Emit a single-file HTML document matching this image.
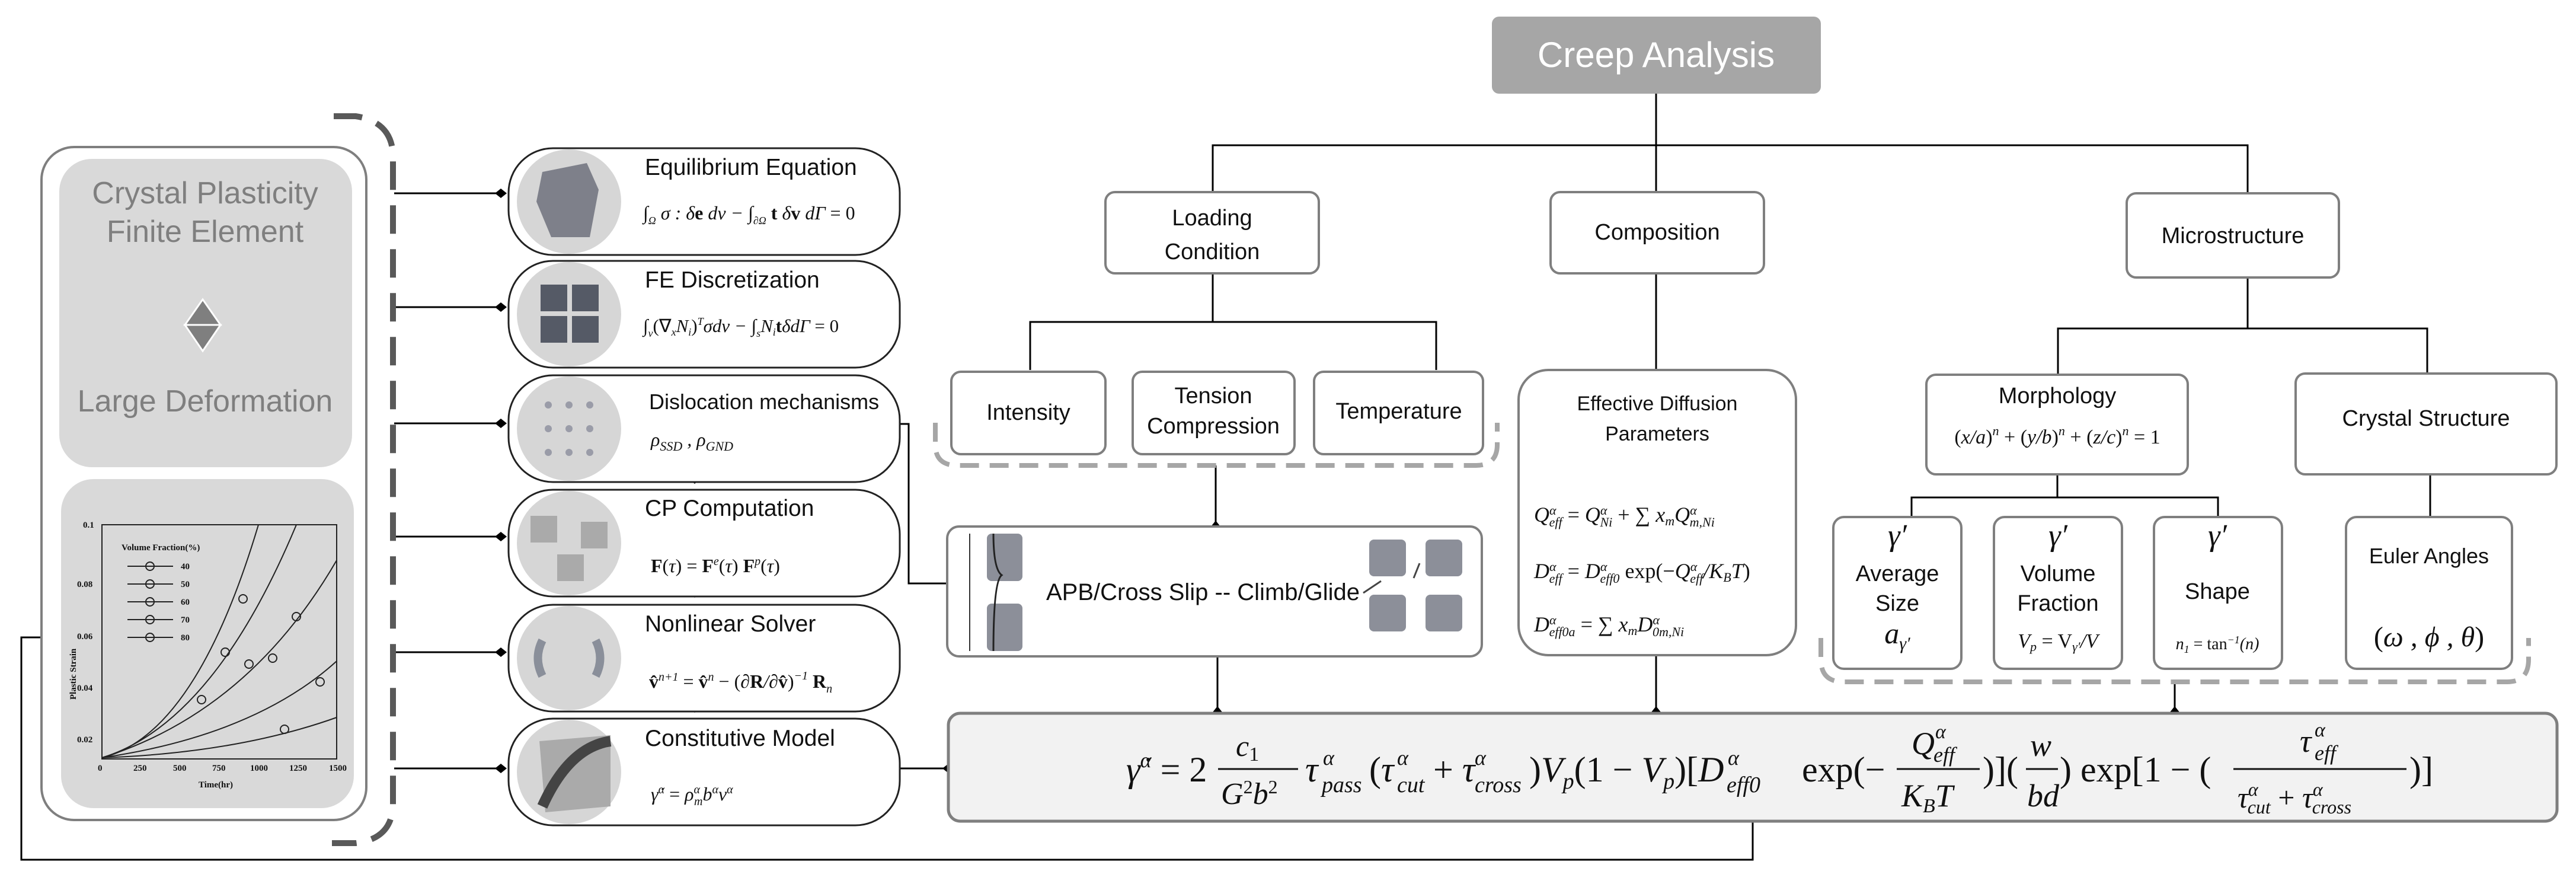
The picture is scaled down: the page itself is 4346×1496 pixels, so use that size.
<!DOCTYPE html>
<html><head><meta charset="utf-8"><style>
html,body{margin:0;padding:0;background:#fff;}
svg{display:block}
.s{font-family:"Liberation Sans",sans-serif;fill:#111;}
.m{font-family:"Liberation Serif",serif;font-style:italic;fill:#111;}
.r{font-family:"Liberation Serif",serif;font-style:normal;fill:#111;}
</style></head><body>
<svg width="4346" height="1496" viewBox="0 0 4346 1496" xmlns="http://www.w3.org/2000/svg">
<g stroke="#000" stroke-width="3" fill="none">
<path d="M2794 158 V324"/>
<path d="M2046 324 V245 H3792 V326"/>
<path d="M2046 460 V543"/><path d="M1738 624 V543 H2423 V624"/>
<path d="M2794 460 V624"/>
<path d="M3792 468 V554"/><path d="M3472 632 V554 H4095 V632"/>
<path d="M3471 768 V839"/><path d="M3225 872 V839 H3742 V872"/>
<path d="M4100 800 V872"/>
<path d="M2051 785 V888"/>
<path d="M2054 1100 V1201"/><path d="M2794 1105 V1201"/><path d="M3669 1150 V1201"/>
<path d="M2957 1386 V1450 H36 V1075 H105"/>
<path d="M665 326 H845"/><path d="M665 518 H845"/><path d="M665 714 H845"/>
<path d="M665 905 H845"/><path d="M665 1100 H845"/><path d="M665 1296 H845"/>
<path d="M1497 715 H1533 V984 H1600"/>
<path d="M1497 1296 H1600"/>
</g>
<g fill="#000">
<path d="M2051 878 l-8 10 l8 10 l8 -10Z"/>
<path d="M2054 1191 l-8 10 l8 10 l8 -10Z"/><path d="M2794 1191 l-8 10 l8 10 l8 -10Z"/><path d="M3669 1191 l-8 10 l8 10 l8 -10Z"/>
<path d="M1590 1296 l10 -8 l10 8 l-10 8Z"/>
<path d="M95 1075 l10 -8 l10 8 l-10 8Z"/>
<path d="M1487 715 l10 -8 l10 8 l-10 8Z"/>
<path d="M835 326 l10 -8 l10 8 l-10 8Z"/><path d="M835 518 l10 -8 l10 8 l-10 8Z"/><path d="M835 714 l10 -8 l10 8 l-10 8Z"/>
<path d="M835 905 l10 -8 l10 8 l-10 8Z"/><path d="M835 1100 l10 -8 l10 8 l-10 8Z"/><path d="M835 1296 l10 -8 l10 8 l-10 8Z"/>
<path d="M1160 416 h24 l-12 10Z"/><path d="M1160 610 h24 l-12 10Z"/><path d="M1160 806 h24 l-12 10Z"/><path d="M1160 998 h24 l-12 10Z"/><path d="M1160 1192 h24 l-12 10Z"/>
</g>

<rect x="2517" y="28" width="555" height="130" rx="12" fill="#a6a6a6"/>
<text x="2794" y="113" text-anchor="middle" class="s" style="fill:#fff;font-size:60px">Creep Analysis</text>

<g fill="#fff" stroke="#7f7f7f" stroke-width="4">
<rect x="1865" y="324" width="360" height="137" rx="16"/>
<rect x="2616" y="324" width="360" height="137" rx="16"/>
<rect x="3588" y="326" width="358" height="142" rx="16"/>
<rect x="1605" y="627" width="260" height="139" rx="16"/>
<rect x="1911" y="627" width="273" height="139" rx="16"/>
<rect x="2217" y="627" width="285" height="139" rx="16"/>
<rect x="2562" y="624" width="468" height="481" rx="50"/>
<rect x="1598" y="888" width="902" height="219" rx="20"/>
<rect x="3250" y="632" width="441" height="168" rx="16"/>
<rect x="3873" y="630" width="440" height="170" rx="16"/>
<rect x="3093" y="872" width="216" height="256" rx="18"/>
<rect x="3364" y="872" width="216" height="256" rx="18"/>
<rect x="3634" y="872" width="216" height="256" rx="18"/>
<rect x="3958" y="872" width="280" height="256" rx="18"/>
</g>
<rect x="1600" y="1203" width="2714" height="182" rx="20" fill="#f2f2f2" stroke="#7f7f7f" stroke-width="5"/>

<g fill="none" stroke="#a6a6a6" stroke-width="8" stroke-dasharray="32 18">
<path d="M1578 713 V750 Q1578 785 1615 785 H2490 Q2526 785 2526 750 V713"/>
<path d="M3072 1076 V1112 Q3072 1150 3110 1150 H4230 Q4266 1150 4266 1112 V1076"/>
</g>
<g fill="none" stroke="#595959" stroke-width="10" stroke-dasharray="48 26">
<path d="M563 196 H600 Q660 205 663 260 V1360 Q660 1415 600 1422 H560"/>
</g>

<g class="s" text-anchor="middle" style="font-size:38px">
<text x="2045" y="380">Loading</text><text x="2045" y="437">Condition</text>
<text x="2796" y="404">Composition</text>
<text x="3767" y="410">Microstructure</text>
<text x="1735" y="708">Intensity</text>
<text x="2047" y="680">Tension</text><text x="2047" y="731">Compression</text>
<text x="2360" y="706">Temperature</text>
<text x="2796" y="692" style="font-size:34px">Effective Diffusion</text>
<text x="2796" y="743" style="font-size:34px">Parameters</text>
<text x="3471" y="680">Morphology</text>
<text x="4093" y="718">Crystal Structure</text>
<text x="3201" y="980">Average</text><text x="3201" y="1030">Size</text>
<text x="3472" y="980">Volume</text><text x="3472" y="1030">Fraction</text>
<text x="3741" y="1010">Shape</text>
<text x="4098" y="950" style="font-size:36px">Euler Angles</text>
</g>
<text x="1765" y="1012" class="s" style="font-size:40px">APB/Cross Slip -- Climb/Glide</text>
<g class="m" text-anchor="middle">
<text x="3201" y="920" style="font-size:52px">γ′</text>
<text x="3472" y="920" style="font-size:52px">γ′</text>
<text x="3741" y="920" style="font-size:52px">γ′</text>
<text x="3201" y="1085" style="font-size:50px">a<tspan style="font-size:30px" dy="10">γ′</tspan></text>
<text x="3472" y="1092" style="font-size:34px">V<tspan style="font-size:22px" dy="6">p</tspan><tspan class="r" dy="-6"> = V</tspan><tspan style="font-size:22px" dy="6">γ′</tspan><tspan dy="-6">/V</tspan></text>
<text x="3741" y="1095" style="font-size:28px">n<tspan dy="6" style="font-size:18px">1</tspan><tspan dy="-6" class="r"> = tan</tspan><tspan dy="-10" style="font-size:18px">−1</tspan><tspan dy="10">(n)</tspan></text>
<text x="4098" y="1090" style="font-size:48px"><tspan class="r">(</tspan>ω , ϕ , θ<tspan class="r">)</tspan></text>
<text x="3471" y="748" style="font-size:34px"><tspan class="r">(</tspan>x/a<tspan class="r">)</tspan><tspan dy="-14" style="font-size:22px">n</tspan><tspan dy="14" class="r"> + (</tspan>y/b<tspan class="r">)</tspan><tspan dy="-14" style="font-size:22px">n</tspan><tspan dy="14" class="r"> + (</tspan>z/c<tspan class="r">)</tspan><tspan dy="-14" style="font-size:22px">n</tspan><tspan dy="14" class="r"> = 1</tspan></text>
</g>
<g class="m" style="font-size:36px">
<text x="2588" y="880">Q<tspan dy="-12" style="font-size:22px">α</tspan><tspan dx="-12" dy="20" style="font-size:22px">eff</tspan><tspan dy="-8" class="r"> = </tspan>Q<tspan dy="-12" style="font-size:22px">α</tspan><tspan dx="-12" dy="20" style="font-size:22px">Ni</tspan><tspan dy="-8" class="r"> + ∑ </tspan>x<tspan dy="6" style="font-size:22px">m</tspan><tspan dy="-6">Q</tspan><tspan dy="-12" style="font-size:22px">α</tspan><tspan dx="-12" dy="20" style="font-size:22px">m,Ni</tspan></text>
<text x="2588" y="975">D<tspan dy="-12" style="font-size:22px">α</tspan><tspan dx="-12" dy="20" style="font-size:22px">eff</tspan><tspan dy="-8" class="r"> = </tspan>D<tspan dy="-12" style="font-size:22px">α</tspan><tspan dx="-12" dy="20" style="font-size:22px">eff0</tspan><tspan dy="-8" class="r"> exp(−</tspan>Q<tspan dy="-12" style="font-size:22px">α</tspan><tspan dx="-12" dy="20" style="font-size:22px">eff</tspan><tspan dy="-8">/K</tspan><tspan dy="6" style="font-size:22px">B</tspan><tspan dy="-6">T</tspan><tspan class="r">)</tspan></text>
<text x="2588" y="1065">D<tspan dy="-12" style="font-size:22px">α</tspan><tspan dx="-12" dy="20" style="font-size:22px">eff0a</tspan><tspan dy="-8" class="r"> = ∑ </tspan>x<tspan dy="6" style="font-size:22px">m</tspan><tspan dy="-6">D</tspan><tspan dy="-12" style="font-size:22px">α</tspan><tspan dx="-12" dy="20" style="font-size:22px">0m,Ni</tspan></text>
</g>

<g fill="#8c8f99">
<rect x="1665" y="900" width="60" height="80" rx="8"/><rect x="1665" y="1018" width="60" height="80" rx="8"/>
<rect x="2310" y="910" width="62" height="62" rx="8"/><rect x="2405" y="910" width="62" height="62" rx="8"/>
<rect x="2310" y="1003" width="62" height="62" rx="8"/><rect x="2405" y="1003" width="62" height="62" rx="8"/>
</g>
<path d="M1636 900 V1098" stroke="#333" stroke-width="2"/>
<path d="M1676 900 Q1676 960 1690 970 Q1676 980 1676 1098" stroke="#222" stroke-width="3" fill="none"/>
<path d="M2385 975 L2395 950 M2300 1000 L2330 980" stroke="#444" stroke-width="3"/>

<!-- Equation -->
<g class="m" style="font-size:60px">
<text x="1900" y="1318">γ̇<tspan dy="-24" style="font-size:36px">α</tspan><tspan dy="24" class="r"> = 2</tspan></text>
<text x="2085" y="1275" style="font-size:50px">c<tspan dy="8" class="r" style="font-size:34px">1</tspan></text>
<text x="2060" y="1356" style="font-size:52px">G<tspan dy="-18" class="r" style="font-size:32px">2</tspan><tspan dy="18">b</tspan><tspan dy="-18" class="r" style="font-size:32px">2</tspan></text>
<text x="2202" y="1318">τ</text><text x="2232" y="1290" style="font-size:36px">α</text><text x="2230" y="1336" style="font-size:38px">pass</text>
<text x="2310" y="1318"><tspan class="r">(</tspan>τ</text><text x="2357" y="1290" style="font-size:36px">α</text><text x="2357" y="1336" style="font-size:38px">cut</text>
<text x="2418" y="1318"><tspan class="r">+ </tspan>τ</text><text x="2488" y="1290" style="font-size:36px">α</text><text x="2488" y="1336" style="font-size:38px">cross</text>
<text x="2580" y="1318"><tspan class="r">)</tspan>V<tspan dy="12" style="font-size:38px">p</tspan><tspan dy="-12" class="r">(1 − </tspan>V<tspan dy="12" style="font-size:38px">p</tspan><tspan dy="-12" class="r">)[</tspan>D</text>
<text x="2915" y="1290" style="font-size:36px">α</text><text x="2913" y="1336" style="font-size:38px">eff0</text>
<text x="3040" y="1318" class="r">exp(−</text>
<text x="3225" y="1272" style="font-size:54px">Q</text><text x="3265" y="1245" style="font-size:34px">α</text><text x="3262" y="1285" style="font-size:36px">eff</text>
<text x="3208" y="1360" style="font-size:54px">K<tspan dy="10" style="font-size:34px">B</tspan><tspan dy="-10">T</tspan></text>
<text x="3345" y="1318" class="r">)](</text>
<text x="3425" y="1275" style="font-size:54px">w</text>
<text x="3420" y="1360" style="font-size:54px">bd</text>
<text x="3475" y="1318" class="r">) exp[1 − (</text>
<text x="3880" y="1268" style="font-size:54px">τ</text><text x="3905" y="1242" style="font-size:34px">α</text><text x="3905" y="1282" style="font-size:36px">eff</text>
<text x="3775" y="1362" style="font-size:50px">τ<tspan dy="-20" style="font-size:32px">α</tspan><tspan dx="-18" dy="30" style="font-size:32px">cut</tspan><tspan dy="-10" class="r"> + </tspan>τ<tspan dy="-20" style="font-size:32px">α</tspan><tspan dx="-18" dy="30" style="font-size:32px">cross</tspan></text>
<text x="4065" y="1318" class="r">)]</text>
</g>
<g stroke="#111" stroke-width="3">
<path d="M2055 1297 H2190"/><path d="M3200 1297 H3340"/><path d="M3418 1297 H3472"/><path d="M3768 1297 H4060"/>
</g>

<!-- Left panel -->
<rect x="70" y="248" width="548" height="1135" rx="55" fill="#fff" stroke="#7f7f7f" stroke-width="4"/>
<rect x="100" y="268" width="494" height="520" rx="55" fill="#d9d9d9"/>
<rect x="103" y="808" width="494" height="555" rx="55" fill="#d9d9d9"/>
<g class="s" text-anchor="middle" style="fill:#7f7f7f;font-size:52px">
<text x="346" y="343">Crystal Plasticity</text>
<text x="346" y="408">Finite Element</text>
<text x="346" y="694">Large Deformation</text>
</g>
<path d="M342 505 L372 548 L312 548Z" fill="#7f7f7f" stroke="#fff" stroke-width="3"/>
<path d="M342 592 L372 548 L312 548Z" fill="#7f7f7f" stroke="#fff" stroke-width="3"/>
<rect x="172" y="885" width="396" height="395" fill="#d9d9d9" stroke="#222" stroke-width="2"/>
<g fill="none" stroke="#222" stroke-width="2">
<path d="M172 1278 Q330 1240 436 885"/>
<path d="M172 1278 Q360 1220 500 885"/>
<path d="M172 1278 Q420 1200 568 945"/>
<path d="M172 1278 Q430 1240 568 1115"/>
<path d="M172 1278 Q400 1270 568 1210"/>
<path d="M215 955 H292"/><path d="M215 985 H292"/><path d="M215 1015 H292"/><path d="M215 1045 H292"/><path d="M215 1075 H292"/>
<circle cx="253" cy="955" r="7"/><circle cx="253" cy="985" r="7"/><circle cx="253" cy="1015" r="7"/><circle cx="253" cy="1045" r="7"/><circle cx="253" cy="1075" r="7"/>
<circle cx="380" cy="1100" r="7"/><circle cx="410" cy="1010" r="7"/><circle cx="340" cy="1180" r="7"/><circle cx="420" cy="1120" r="7"/><circle cx="460" cy="1110" r="7"/><circle cx="500" cy="1040" r="7"/><circle cx="540" cy="1150" r="7"/><circle cx="480" cy="1230" r="7"/>
</g>
<g class="r" style="font-size:15px;font-weight:bold">
<text x="205" y="928">Volume Fraction(%)</text>
<text x="305" y="960">40</text><text x="305" y="990">50</text><text x="305" y="1020">60</text><text x="305" y="1050">70</text><text x="305" y="1080">80</text>
<text x="140" y="890">0.1</text><text x="130" y="990">0.08</text><text x="130" y="1078">0.06</text><text x="130" y="1165">0.04</text><text x="130" y="1252">0.02</text>
<text x="165" y="1300">0</text><text x="225" y="1300">250</text><text x="292" y="1300">500</text><text x="358" y="1300">750</text><text x="422" y="1300">1000</text><text x="488" y="1300">1250</text><text x="555" y="1300">1500</text>
<text x="335" y="1328">Time(hr)</text>
<text transform="translate(128 1180) rotate(-90)">Plastic Strain</text>
</g>

<g fill="#fff" stroke="#222" stroke-width="3">
<rect x="858" y="250" width="660" height="180" rx="75"/>
<rect x="858" y="440" width="660" height="180" rx="75"/>
<rect x="858" y="633" width="660" height="180" rx="75"/>
<rect x="858" y="826" width="660" height="180" rx="75"/>
<rect x="858" y="1020" width="660" height="180" rx="75"/>
<rect x="858" y="1212" width="660" height="180" rx="75"/>
</g>
<g fill="#d6d6d6">
<circle cx="960" cy="340" r="88"/><circle cx="960" cy="530" r="88"/><circle cx="960" cy="723" r="88"/>
<circle cx="960" cy="916" r="88"/><circle cx="960" cy="1110" r="88"/><circle cx="960" cy="1302" r="88"/>
</g>
<path d="M915 290 L990 275 L1010 320 L995 400 L930 400 L905 340Z" fill="#7e808a"/>
<g fill="#555a66"><rect x="912" y="480" width="45" height="45"/><rect x="965" y="480" width="45" height="45"/><rect x="912" y="533" width="45" height="45"/><rect x="965" y="533" width="45" height="45"/></g>
<g fill="#9a9ca8"><circle cx="925" cy="683" r="6"/><circle cx="960" cy="683" r="6"/><circle cx="995" cy="683" r="6"/><circle cx="925" cy="723" r="6"/><circle cx="960" cy="723" r="6"/><circle cx="995" cy="723" r="6"/><circle cx="925" cy="763" r="6"/><circle cx="960" cy="763" r="6"/><circle cx="995" cy="763" r="6"/></g>
<g fill="#aaa"><rect x="895" y="870" width="45" height="45"/><rect x="980" y="880" width="45" height="45"/><rect x="940" y="935" width="45" height="45"/></g>
<path d="M915 1080 Q900 1110 915 1140 M1005 1080 Q1020 1110 1005 1140" stroke="#8a8f9a" stroke-width="14" fill="none"/>
<path d="M910 1250 L1030 1240 L1030 1360 L920 1370Z" fill="#aaa"/><path d="M915 1360 Q960 1260 1030 1250" stroke="#444" stroke-width="18" fill="none"/>
<g class="s" style="font-size:39px">
<text x="1088" y="295">Equilibrium Equation</text>
<text x="1088" y="485">FE Discretization</text>
<text x="1095" y="690" style="font-size:36px">Dislocation mechanisms</text>
<text x="1088" y="870">CP Computation</text>
<text x="1088" y="1065">Nonlinear Solver</text>
<text x="1088" y="1258">Constitutive Model</text>
</g>
<g class="m" style="font-size:32px">
<text x="1085" y="370">∫<tspan dy="8" style="font-size:18px">Ω</tspan><tspan dy="-8"> σ : δ</tspan><tspan class="r" style="font-weight:bold">e</tspan> dv − ∫<tspan dy="8" style="font-size:18px">∂Ω</tspan><tspan dy="-8"> </tspan><tspan class="r" style="font-weight:bold">t</tspan> δ<tspan class="r" style="font-weight:bold">v</tspan> dΓ <tspan class="r">= 0</tspan></text>
<text x="1085" y="560" style="font-size:31px">∫<tspan dy="8" style="font-size:18px">v</tspan><tspan dy="-8" class="r">(∇</tspan><tspan dy="6" style="font-size:18px">x</tspan><tspan dy="-6">N</tspan><tspan dy="6" style="font-size:18px">i</tspan><tspan dy="-6" class="r">)</tspan><tspan dy="-12" style="font-size:18px">T</tspan><tspan dy="12">σdv − ∫</tspan><tspan dy="8" style="font-size:18px">s</tspan><tspan dy="-8">N</tspan><tspan dy="6" style="font-size:18px">i</tspan><tspan dy="-6" class="r" style="font-weight:bold">t</tspan>δdΓ <tspan class="r">= 0</tspan></text>
<text x="1098" y="752">ρ<tspan dy="8" style="font-size:22px">SSD</tspan><tspan dy="-8"> , ρ</tspan><tspan dy="8" style="font-size:22px">GND</tspan></text>
<text x="1098" y="965"><tspan class="r" style="font-weight:bold">F</tspan><tspan class="r">(</tspan>τ<tspan class="r">) = </tspan><tspan class="r" style="font-weight:bold">F</tspan><tspan dy="-12" style="font-size:20px">e</tspan><tspan dy="12" class="r">(</tspan>τ<tspan class="r">) </tspan><tspan class="r" style="font-weight:bold">F</tspan><tspan dy="-12" style="font-size:20px">p</tspan><tspan dy="12" class="r">(</tspan>τ<tspan class="r">)</tspan></text>
<text x="1095" y="1160"><tspan class="r" style="font-weight:bold">v̂</tspan><tspan dy="-12" style="font-size:20px">n+1</tspan><tspan dy="12" class="r"> = </tspan><tspan class="r" style="font-weight:bold">v̂</tspan><tspan dy="-12" style="font-size:20px">n</tspan><tspan dy="12" class="r"> − (∂</tspan><tspan class="r" style="font-weight:bold">R</tspan>/∂<tspan class="r" style="font-weight:bold">v̂</tspan><tspan class="r">)</tspan><tspan dy="-14" style="font-size:20px">−1</tspan><tspan dy="14"> </tspan><tspan class="r" style="font-weight:bold">R</tspan><tspan dy="8" style="font-size:20px">n</tspan></text>
<text x="1098" y="1350">γ̇<tspan dy="-12" style="font-size:20px">α</tspan><tspan dy="12" class="r"> = </tspan>ρ<tspan dy="-12" style="font-size:20px">α</tspan><tspan dx="-10" dy="20" style="font-size:20px">m</tspan><tspan dy="-8">b</tspan><tspan dy="-12" style="font-size:20px">α</tspan><tspan dy="12">v</tspan><tspan dy="-12" style="font-size:20px">α</tspan></text>
</g>
</svg>
</body></html>
